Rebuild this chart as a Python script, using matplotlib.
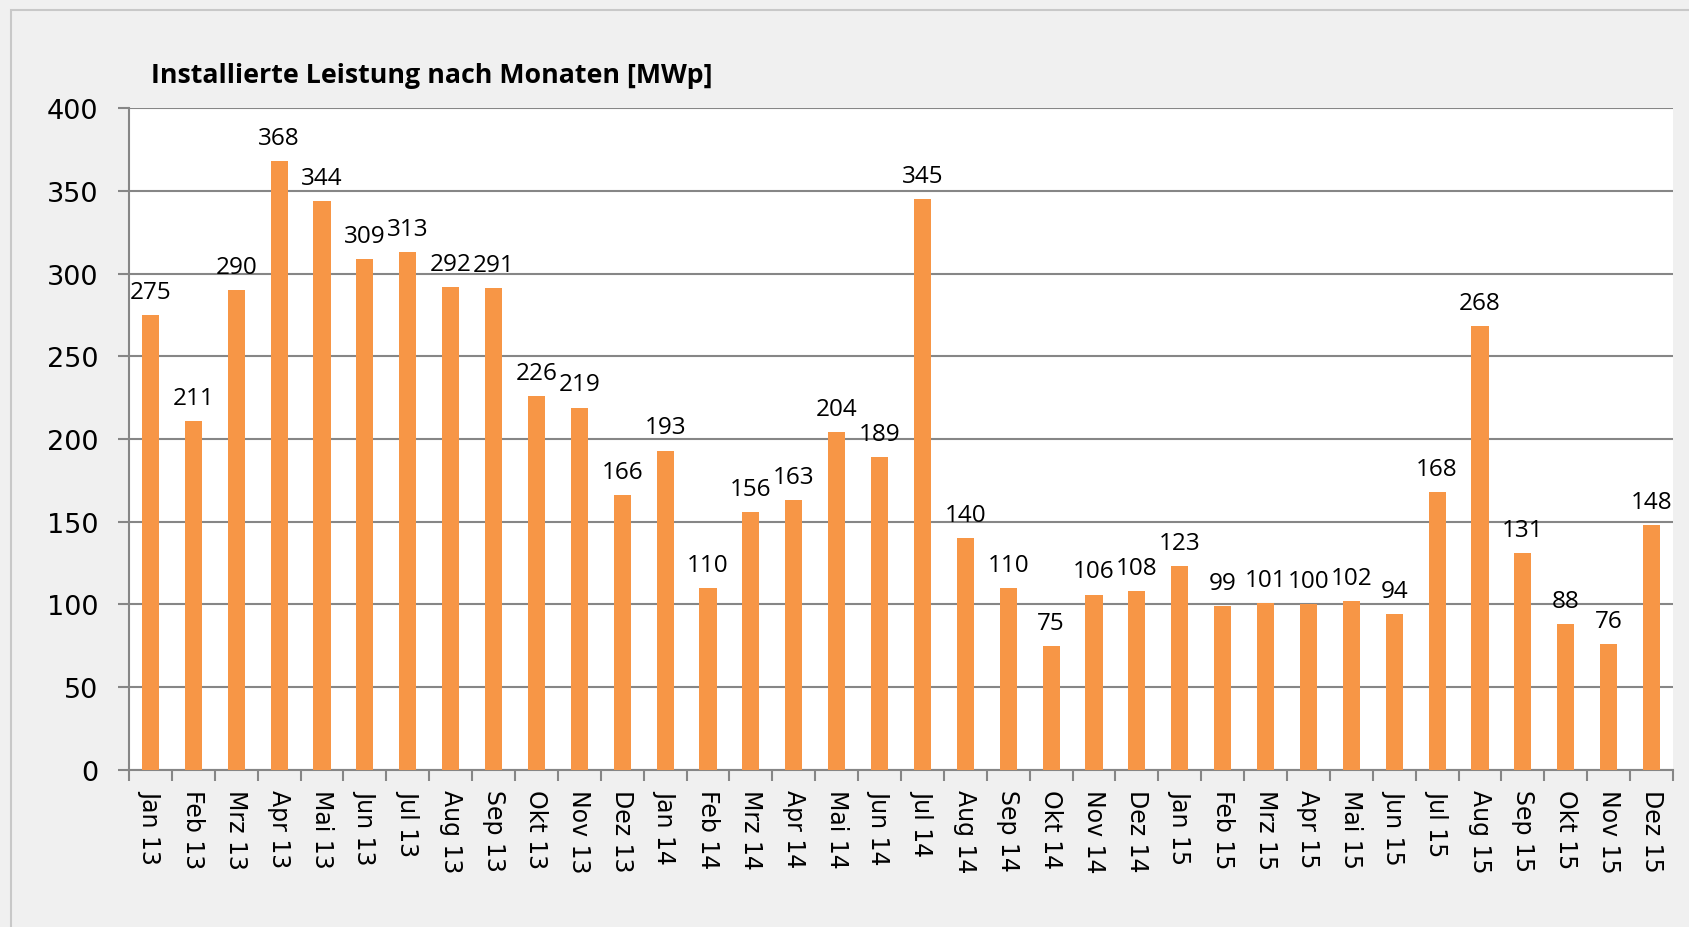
import matplotlib.pyplot as plt
from matplotlib.patches import Rectangle

months = ["Jan", "Feb", "Mrz", "Apr", "Mai", "Jun", "Jul", "Aug", "Sep", "Okt", "Nov", "Dez"]
years = ["13", "14", "15"]
labels = [m + " " + y for y in years for m in months]
values = [275, 211, 290, 368, 344, 309, 313, 292, 291, 226, 219, 166,
          193, 110, 156, 163, 204, 189, 345, 140, 110, 75, 106, 108,
          123, 99, 101, 100, 102, 94, 168, 268, 131, 88, 76, 148]

bar_color = "#F79646"
grid_color = "#868686"

fig = plt.figure(figsize=(16.89, 9.28), dpi=100)
fig.patch.set_facecolor("#F0F0F0")
# outer chart border (right/bottom edge cut off in the original)
fig.patches.append(Rectangle((11 / 1689, -0.1), 1.2, 1 - 11 / 928 + 0.1,
                             transform=fig.transFigure, fill=False,
                             edgecolor="#C8C8C8", linewidth=1.5))

ax = fig.add_axes([0.0764, 0.1692, 0.9141, 0.7133])
ax.set_facecolor("white")

x = range(len(values))
ax.bar(x, values, width=0.4, color=bar_color, zorder=3)

for i, v in enumerate(values):
    ax.annotate(str(v), (i, v), xytext=(0, 8), textcoords="offset points",
                ha="center", va="bottom", fontsize=17.5, family="Open Sans",
                annotation_clip=False, zorder=4)

ax.set_xlim(-0.5, len(values) - 0.5)
ax.set_ylim(0, 400)
ax.set_yticks(range(0, 401, 50))
ax.yaxis.grid(True, color=grid_color, linewidth=1.5, zorder=0)
ax.tick_params(axis="y", labelsize=19.5, length=8, width=1.5, color=grid_color, pad=14)

# category boundary ticks, labels at centers
ax.set_xticks([i - 0.5 for i in range(len(values) + 1)])
ax.set_xticklabels([])
ax.set_xticks(list(x), minor=True)
ax.set_xticklabels(labels, minor=True, rotation=270, fontsize=17)
ax.tick_params(axis="x", which="major", length=8, width=1.5, color=grid_color, direction="out")
ax.tick_params(axis="x", which="minor", length=0, pad=14)

for side in ["top", "right"]:
    ax.spines[side].set_visible(False)
for side in ["left", "bottom"]:
    ax.spines[side].set_color(grid_color)
    ax.spines[side].set_linewidth(1.5)

fig.text(151 / 1689, 1 - 76 / 928, "Installierte Leistung nach Monaten [MWp]",
         fontsize=19.3, fontweight="bold", family="Open Sans", ha="left", va="center")

fig.savefig("out.png", dpi=100, facecolor=fig.get_facecolor())
